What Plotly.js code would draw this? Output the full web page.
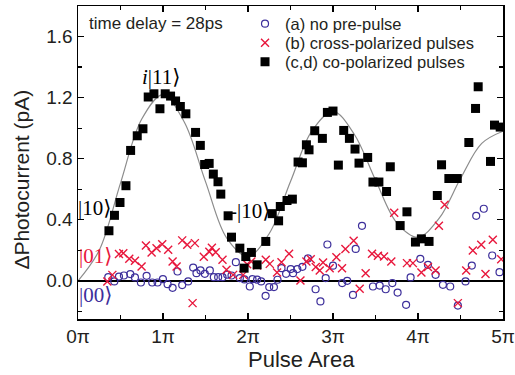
<!DOCTYPE html>
<html>
<head>
<meta charset="utf-8">
<script src="https://cdn.plot.ly/plotly-3.0.1.min.js"></script>
<style>html,body{margin:0;padding:0;background:#fff;}#chart{width:515px;height:375px;}</style>
</head>
<body>
<div id="chart"></div>
<script>
// Pulse area in units of pi
const tickVals = [0, 1, 2, 3, 4, 5];
const tickLabels = ["0\u03c0", "1\u03c0", "2\u03c0", "3\u03c0", "4\u03c0", "5\u03c0"];

// (a) no pre-pulse
const noPreX = [0.356,0.427,0.482,0.540,0.615,0.670,0.740,0.807,0.873,0.936,0.999,1.054,1.113,1.171,1.226,1.296,1.355,1.394,1.441,1.492,1.551,1.598,1.649,1.700,1.755,1.806,1.857,1.904,1.958,2.021,2.053,2.107,2.155,2.207,2.250,2.305,2.347,2.394,2.448,2.503,2.530,2.580,2.640,2.706,2.795,2.852,2.914,2.934,3.000,3.108,3.167,3.235,3.267,3.341,3.470,3.549,3.620,3.698,3.760,3.860,3.913,4.027,4.117,4.207,4.293,4.379,4.469,4.559,4.633,4.685,4.774,4.873,4.959];
const noPreY = [0.024,-0.004,0.028,0.035,0.044,0.022,-0.011,0.033,-0.011,-0.011,0.011,-0.022,-0.046,0.061,-0.028,-0.004,0.087,0.050,0.068,0.046,0.068,0.024,0.024,0.024,0.040,0.035,0.122,0.018,0.009,-0.037,0.011,0.008,-0.004,-0.098,-0.041,-0.041,0.007,0.083,0.046,0.077,0.050,0.077,0.092,0.147,-0.055,-0.135,0.018,0.238,0.099,-0.015,0.000,-0.092,0.209,0.360,-0.037,-0.031,-0.055,-0.015,-0.077,-0.157,0.022,0.144,0.105,0.039,-0.026,-0.037,-0.162,-0.004,0.100,0.426,0.472,0.166,0.057];

// (b) cross-polarized pulses
const crossX = [0.345,0.404,0.482,0.533,0.603,0.670,0.748,0.799,0.866,0.924,0.991,1.061,1.113,1.160,1.226,1.285,1.348,1.375,1.480,1.545,1.575,1.620,1.700,1.747,1.825,1.943,1.990,2.040,2.107,2.209,2.256,2.342,2.394,2.483,2.617,2.687,2.738,2.797,2.844,2.883,2.961,3.040,3.106,3.146,3.243,3.314,3.384,3.459,3.529,3.600,3.686,3.720,3.870,3.940,4.040,4.117,4.207,4.246,4.313,4.469,4.567,4.645,4.744,4.794,4.880,4.979];
const crossY = [-0.004,0.039,0.175,0.181,0.144,0.131,0.094,0.231,0.186,0.214,0.240,0.203,0.127,0.094,0.265,0.236,-0.146,0.247,0.157,0.190,0.216,0.187,0.138,0.072,0.039,0.039,0.109,0.127,0.100,0.138,0.111,0.054,0.122,0.177,0.002,0.127,0.142,0.090,0.068,0.120,0.083,0.155,0.083,0.208,0.262,-0.052,0.050,0.177,0.164,0.159,0.127,0.446,0.116,0.116,0.054,0.090,0.068,0.360,0.498,-0.146,0.068,0.199,0.236,0.044,0.269,0.142];

// (c,d) co-polarized pulses
const coX = [0.364,0.429,0.494,0.564,0.619,0.697,0.764,0.826,0.893,0.964,1.026,1.089,1.148,1.204,1.269,1.383,1.439,1.490,1.543,1.592,1.647,1.680,1.766,1.806,1.904,1.954,1.974,2.040,2.107,2.209,2.285,2.360,2.380,2.459,2.522,2.589,2.640,2.687,2.718,2.785,2.875,2.934,3.000,3.063,3.126,3.193,3.259,3.306,3.408,3.470,3.540,3.630,3.674,3.790,3.870,3.970,4.040,4.130,4.227,4.277,4.363,4.462,4.598,4.677,4.708,4.853,4.900,4.967];
const coY = [0.328,0.429,0.513,0.623,0.854,0.950,0.996,1.204,1.225,1.127,1.225,1.210,1.178,1.142,1.094,0.972,0.887,0.762,0.769,0.699,0.649,0.568,0.426,0.286,0.214,0.083,0.159,0.186,0.105,0.258,0.440,0.393,0.487,0.526,0.535,0.778,0.773,0.891,0.858,0.983,0.933,1.103,1.112,0.758,0.985,0.933,0.863,0.771,0.808,0.647,0.647,0.585,0.747,0.362,0.452,0.254,0.275,0.258,0.559,0.760,0.670,0.670,0.906,1.129,1.271,0.782,1.020,1.007];

// guide curve
const fitX = [0,0.25,0.5,0.75,1,1.25,1.5,1.75,2,2.25,2.5,2.75,3,3.25,3.5,3.75,4,4.25,4.5,4.75,5];
const fitY = [0,0.20,0.64,1.06,1.22,1.04,0.65,0.28,0.16,0.31,0.65,0.98,1.11,0.96,0.66,0.38,0.286,0.41,0.67,0.90,0.98];

const names = ["(a) no pre-pulse", "(b) cross-polarized pulses", "(c,d) co-polarized pulses"];

const SANS = "Liberation Sans, Arial, sans-serif";
const SERIF = "Liberation Serif, DejaVu Serif, serif";
const BLUE = "#3d2f9b";
const RED = "#e8173c";
const TXT = "#231f20";

const traces = [
  {x: fitX, y: fitY, mode: "lines", line: {color: "#8c8c8c", width: 1.2, shape: "spline"}, showlegend: false, hoverinfo: "skip"},
  {x: noPreX, y: noPreY, mode: "markers", name: names[0], legend: "legend",
   marker: {symbol: "circle-open", size: 7, color: BLUE, line: {color: BLUE, width: 1.2}}},
  {x: crossX, y: crossY, mode: "markers", name: names[1], legend: "legend2",
   marker: {symbol: "x-thin", size: 8, color: RED, line: {color: RED, width: 1.4}}},
  {x: coX, y: coY, mode: "markers", name: names[2], legend: "legend3",
   marker: {symbol: "square", size: 9, color: "#000", line: {width: 0}}}
];

const ket = (text, x, y, color) => ({x: x, y: y, xref: "x", yref: "y", text: text, showarrow: false,
  xanchor: "center", yanchor: "middle", font: {family: SERIF, size: 21, color: color}});

const legendBox = (y) => ({x: 0.393, y: y, xanchor: "left", yanchor: "middle", bgcolor: "rgba(0,0,0,0)",
  font: {family: SANS, size: 16.5, color: TXT}, itemwidth: 30});

const layout = {
  width: 515, height: 375,
  margin: {l: 78, r: 12, t: 6, b: 56},
  paper_bgcolor: "#fff", plot_bgcolor: "#fff",
  font: {family: SANS, color: TXT},
  showlegend: true,
  legend: legendBox(0.9425),
  legend2: legendBox(0.8818),
  legend3: legendBox(0.8211),
  xaxis: {
    range: [0, 5], tickvals: tickVals, ticktext: tickLabels,
    ticks: "inside", ticklen: 6, tickwidth: 1.2, tickcolor: "#000",
    minor: {dtick: 0.5, ticks: "inside", ticklen: 4, tickcolor: "#000"},
    showline: true, linecolor: "#000", linewidth: 1.5, mirror: "allticks",
    showgrid: false, zeroline: false,
    tickfont: {family: SANS, size: 19, color: TXT}
  },
  yaxis: {
    range: [-0.25, 1.8], tick0: 0, dtick: 0.4, tickformat: ".1f",
    ticks: "inside", ticklen: 6, tickwidth: 1.2, tickcolor: "#000",
    minor: {dtick: 0.2, ticks: "inside", ticklen: 4, tickcolor: "#000"},
    showline: true, linecolor: "#000", linewidth: 1.5, mirror: "allticks",
    showgrid: false, zeroline: true, zerolinecolor: "#000", zerolinewidth: 1.5,
    tickfont: {family: SANS, size: 19, color: TXT}
  },
  annotations: [
    {x: 0.525, y: -0.13, xref: "paper", yref: "paper", xanchor: "center", yanchor: "middle", borderpad: 0,
     text: "Pulse Area", showarrow: false, font: {family: SANS, size: 22, color: TXT}},
    {x: -0.132, y: 0.445, xref: "paper", yref: "paper", xanchor: "center", yanchor: "middle", textangle: -90,
     text: "\u0394Photocurrent (pA)", showarrow: false, font: {family: SANS, size: 21, color: TXT}},
    {x: 0.021, y: 0.9425, xref: "paper", yref: "paper", xanchor: "left", yanchor: "middle",
     text: "time delay = 28ps", showarrow: false, font: {family: SANS, size: 17, color: TXT}},
    ket("<i>i</i>|11\u27e9", 0.975, 1.337, "#000"),
    ket("|10\u27e9", 0.194, 0.478, "#000"),
    ket("-|10\u27e9", 2.02, 0.46, "#000"),
    ket("|01\u27e9", 0.20, 0.164, RED),
    ket("|00\u27e9", 0.20, -0.092, BLUE)
  ]
};

Plotly.newPlot("chart", traces, layout, {displayModeBar: false, staticPlot: true});
</script>
</body>
</html>
